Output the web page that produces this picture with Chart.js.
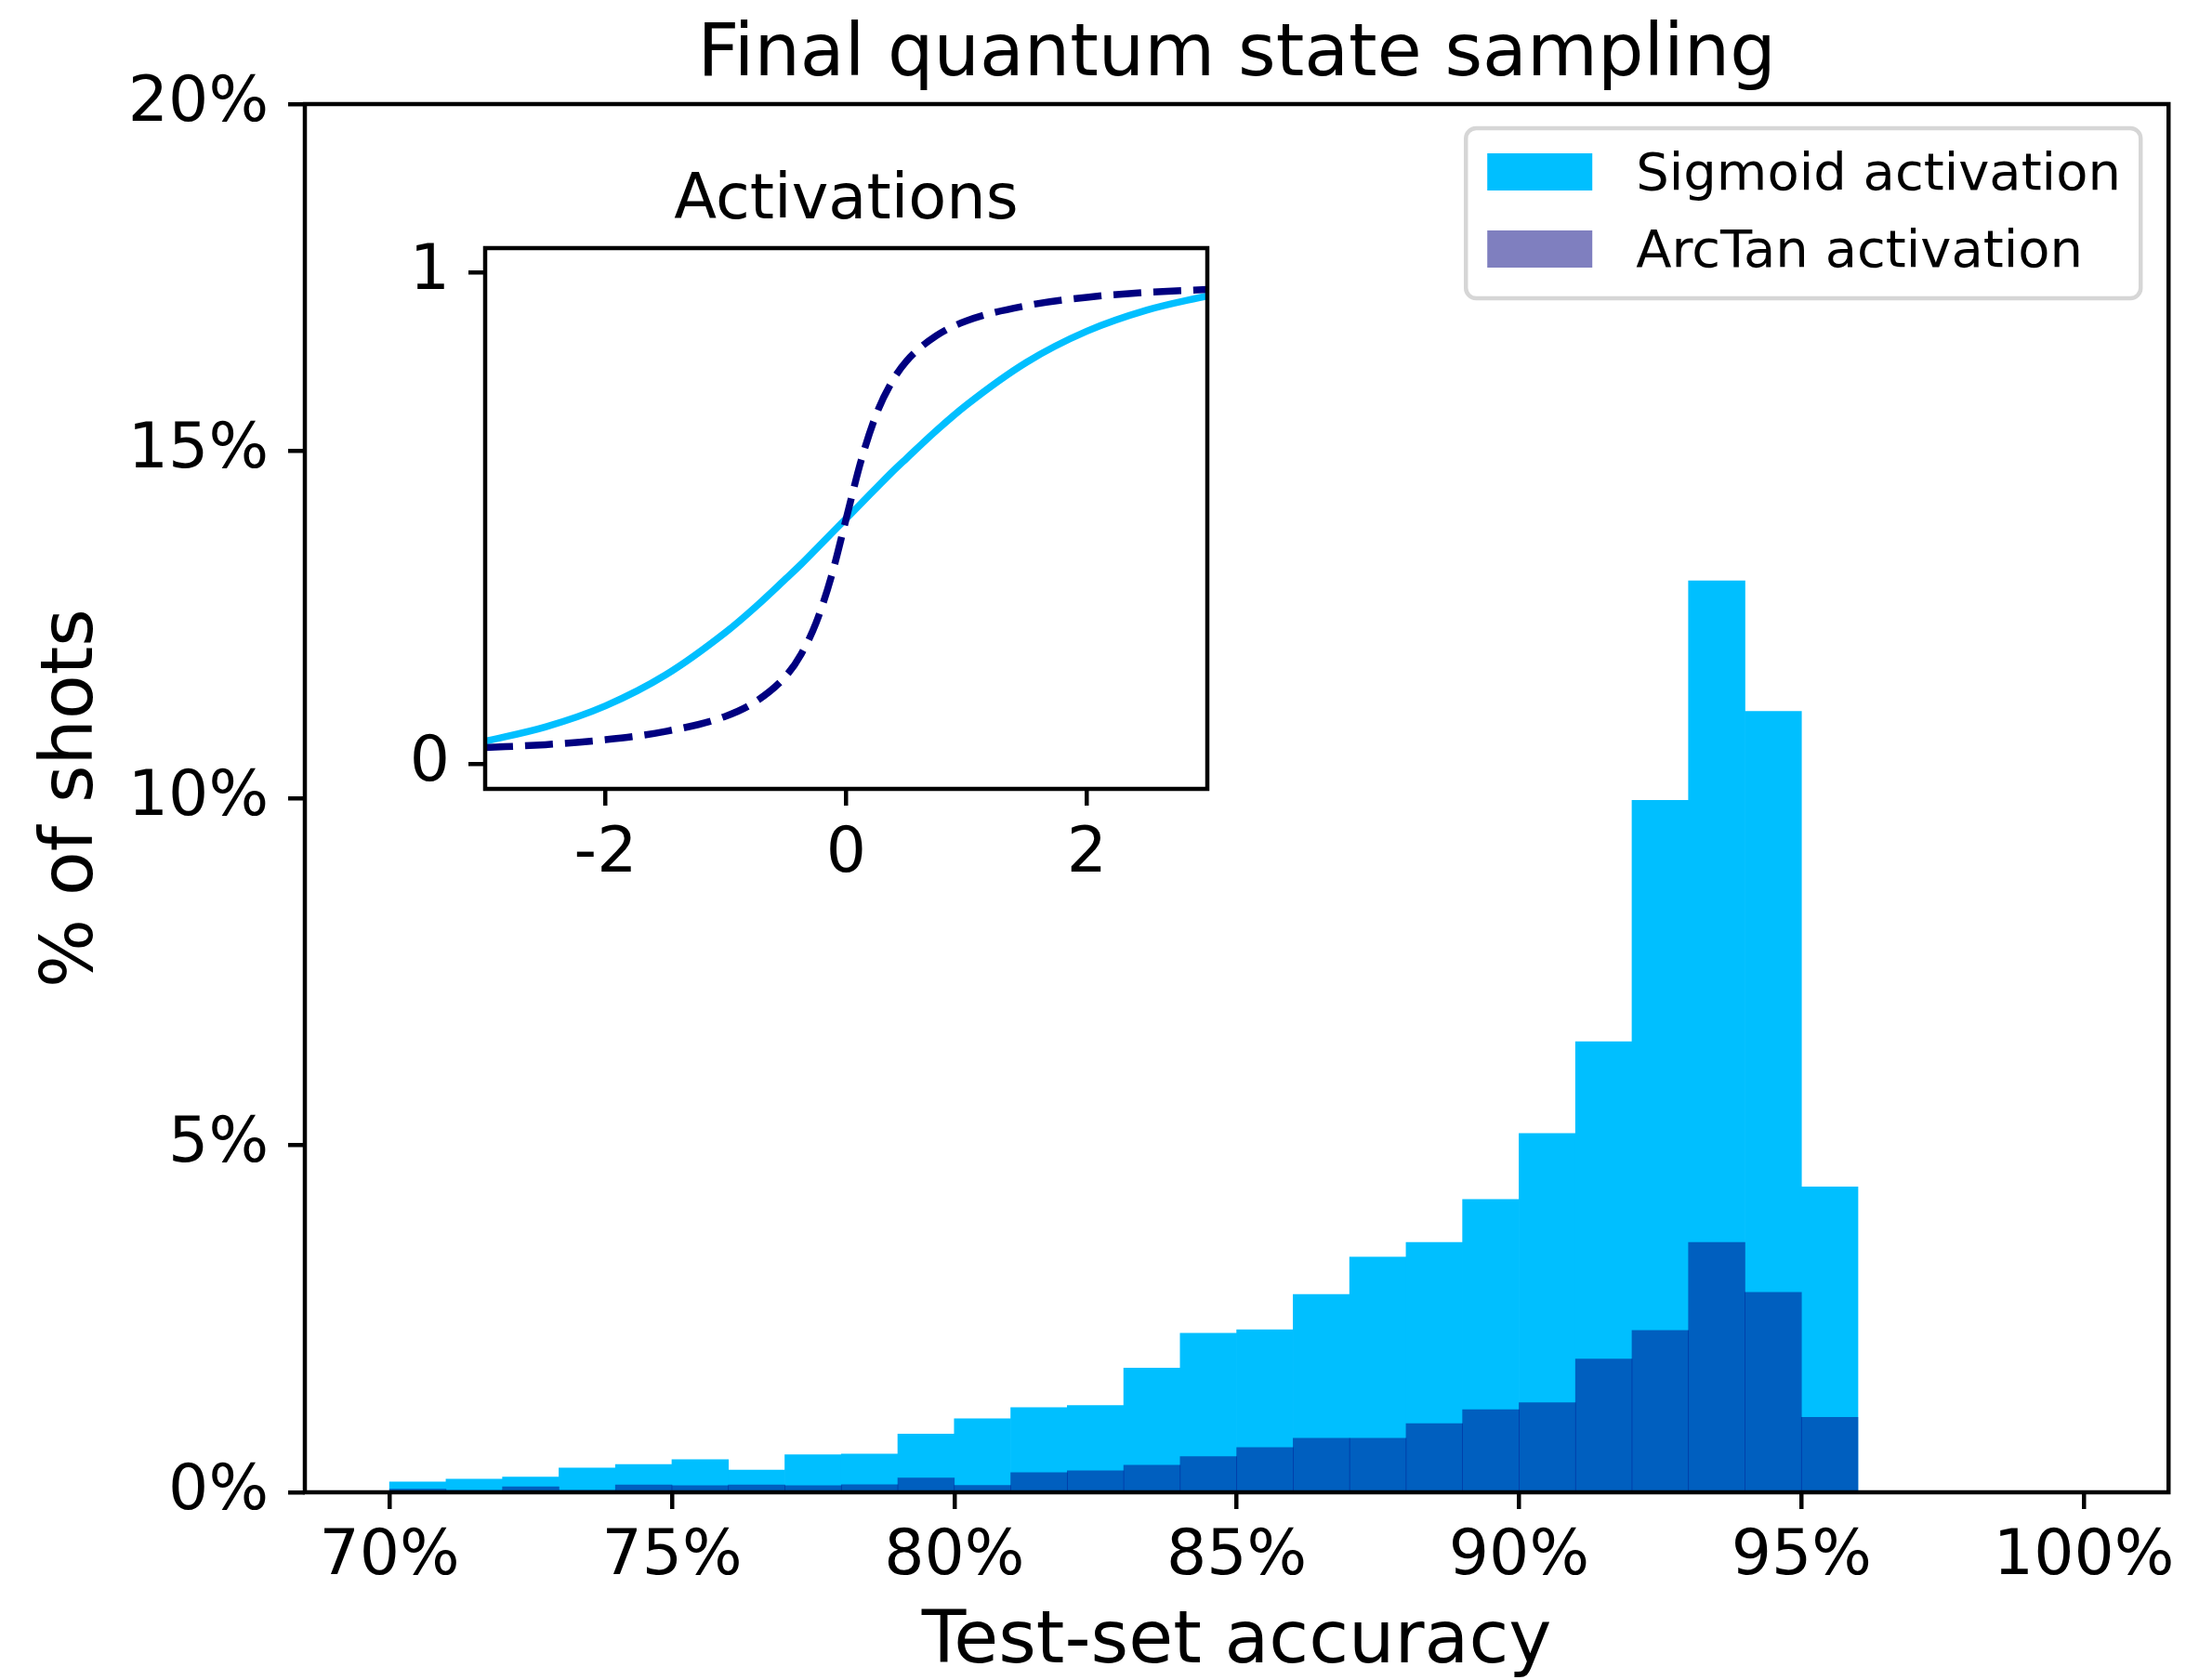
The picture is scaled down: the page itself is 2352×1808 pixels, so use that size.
<!DOCTYPE html>
<html lang="en">
<head>
    <meta charset="UTF-8">
    <title>Final quantum state sampling</title>
    <script src="https://cdn.jsdelivr.net/npm/chart.js"></script>
    <style>
        html, body { margin: 0; padding: 0; background: #fff; overflow: hidden; }
        #wrap { position: relative; width: 2352px; height: 1808px; }
        #mainChart { position: absolute; left: 0; top: 0; }
        #insetChart { position: absolute; left: 400px; top: 150px; }
    </style>
</head>
<body>
<div id="wrap">
    <canvas id="mainChart" width="2352" height="1808"></canvas>
    <canvas id="insetChart" width="940" height="820"></canvas>
</div>
<script>
    // Histogram: left edge of each 1% bin (test-set accuracy)
    const binStarts = [70, 71, 72, 73, 74, 75, 76, 77, 78, 79, 80, 81, 82,
                       83, 84, 85, 86, 87, 88, 89, 90, 91, 92, 93, 94, 95];
    // % of shots per bin
    const sigmoidShots = [0.15, 0.19, 0.22, 0.35, 0.40, 0.47, 0.32, 0.54, 0.55, 0.84, 1.06, 1.22, 1.25,
                          1.79, 2.29, 2.34, 2.85, 3.39, 3.60, 4.22, 5.17, 6.49, 9.97, 13.13, 11.25, 4.40];
    const arctanShots = [0.045, 0.02, 0.08, 0.02, 0.105, 0.095, 0.105, 0.095, 0.11, 0.205, 0.10, 0.285, 0.31,
                         0.39, 0.515, 0.645, 0.78, 0.78, 0.99, 1.19, 1.29, 1.92, 2.33, 3.60, 2.88, 1.08];
    const xTicks = [70, 75, 80, 85, 90, 95, 100];
    const yTicks = [0, 5, 10, 15, 20];

    // Inset: activation curves
    const actX = [-3, -2.5, -2, -1.5, -1, -0.75, -0.5, -0.375, -0.25, -0.125, 0,
                  0.125, 0.25, 0.375, 0.5, 0.75, 1, 1.5, 2, 2.5, 3];
    const sigmoidAct = [0.047, 0.076, 0.119, 0.182, 0.269, 0.321, 0.378, 0.407, 0.438, 0.469, 0.5,
                        0.531, 0.562, 0.593, 0.622, 0.679, 0.731, 0.818, 0.881, 0.924, 0.953];
    const arctanAct = [0.034, 0.040, 0.050, 0.067, 0.098, 0.128, 0.180, 0.224, 0.288, 0.381, 0.5,
                       0.619, 0.712, 0.776, 0.820, 0.872, 0.902, 0.933, 0.950, 0.960, 0.966];
    const insetXTicks = [-2, 0, 2];
    const insetYTicks = [0, 1];

    const FONT = "'DejaVu Sans', sans-serif";
    Chart.defaults.font.family = FONT;
    Chart.defaults.color = '#000';

    const SIGMOID_COLOR = '#00bfff';
    const ARCTAN_FILL = 'rgba(0, 0, 128, 0.5)';
    const ARCTAN_LINE = '#000080';

    // title above the axes box + black frame around the plot area (like matplotlib spines)
    const axesDecor = {
        id: 'axesDecor',
        afterDatasetsDraw(chart, args, opts) {
            const { ctx, chartArea: a } = chart;
            ctx.save();
            ctx.strokeStyle = '#000';
            ctx.lineWidth = opts.frameWidth;
            ctx.strokeRect(a.left, a.top, a.right - a.left, a.bottom - a.top);
            ctx.fillStyle = '#000';
            ctx.font = opts.titleSize + 'px ' + FONT;
            ctx.textAlign = 'center';
            ctx.textBaseline = 'alphabetic';
            ctx.fillText(opts.title, (a.left + a.right) / 2, a.top - opts.titleGap);
            ctx.restore();
        }
    };

    // legend box in the upper right corner of the plot area
    const boxLegend = {
        id: 'boxLegend',
        afterDraw(chart, args, opts) {
            const { ctx, chartArea: a } = chart;
            const fs = opts.fontSize;
            const right = a.right - 30, top = a.top + 26;
            const w = 726, h = 183;
            const left = right - w;
            ctx.save();
            ctx.beginPath();
            ctx.roundRect(left, top, w, h, 11);
            ctx.fillStyle = 'rgba(255,255,255,0.8)';
            ctx.fill();
            ctx.lineWidth = 4.5;
            ctx.strokeStyle = '#d6d6d6';
            ctx.stroke();
            ctx.font = fs + 'px ' + FONT;
            ctx.textAlign = 'left';
            ctx.textBaseline = 'alphabetic';
            const items = [chart.data.datasets[0], chart.data.datasets[1]];
            items.forEach((ds, i) => {
                const rowBottom = top + 67 + i * 83;
                ctx.fillStyle = '#fff';
                ctx.fillRect(left + 23, rowBottom - 40, 113, 40);
                ctx.fillStyle = ds.backgroundColor;
                ctx.fillRect(left + 23, rowBottom - 40, 113, 40);
                ctx.fillStyle = '#000';
                ctx.fillText(ds.label, left + 183, rowBottom - 1);
            });
            ctx.restore();
        }
    };

    const mainChart = new Chart(document.getElementById('mainChart'), {
        type: 'bar',
        data: {
            datasets: [
                {
                    label: 'Sigmoid activation',
                    data: binStarts.map((b, i) => ({ x: b + 0.5, y: sigmoidShots[i] })),
                    backgroundColor: SIGMOID_COLOR,
                    order: 2
                },
                {
                    label: 'ArcTan activation',
                    data: binStarts.map((b, i) => ({ x: b + 0.5, y: arctanShots[i] })),
                    backgroundColor: ARCTAN_FILL,
                    order: 1
                }
            ]
        },
        options: {
            responsive: false,
            animation: false,
            devicePixelRatio: 1,
            grouped: false,
            barPercentage: 1,
            categoryPercentage: 1,
            borderWidth: 0,
            layout: { padding: { top: 112, right: 16, bottom: 0, left: 0 } },
            plugins: {
                legend: { display: false },
                tooltip: { enabled: false },
                axesDecor: { title: 'Final quantum state sampling', titleSize: 78, titleGap: 31, frameWidth: 4.5 },
                boxLegend: { fontSize: 56 }
            },
            scales: {
                x: {
                    type: 'linear',
                    min: 68.5,
                    max: 101.5,
                    offset: false,
                    afterBuildTicks: axis => { axis.ticks = xTicks.map(v => ({ value: v })); },
                    afterFit: scale => { scale.height = 202; },
                    grid: { offset: false, drawOnChartArea: false, tickLength: 18, lineWidth: 4.5, color: '#000' },
                    border: { display: false },
                    ticks: { font: { size: 68 }, padding: 12, maxRotation: 0, autoSkip: false,
                             callback: v => v + '%' },
                    title: { display: true, text: 'Test-set accuracy', font: { size: 78, lineHeight: 1 },
                             padding: { top: 0, bottom: 0 } }
                },
                y: {
                    min: 0,
                    max: 20,
                    afterBuildTicks: axis => { axis.ticks = yTicks.map(v => ({ value: v })); },
                    afterFit: scale => { scale.width = 328; },
                    grid: { drawOnChartArea: false, tickLength: 18, lineWidth: 4.5, color: '#000' },
                    border: { display: false },
                    ticks: { font: { size: 68 }, padding: 21, callback: v => v + '%' },
                    title: { display: true, text: '% of shots', font: { size: 78, lineHeight: 1.2 },
                             padding: { top: 32, bottom: 0 } }
                }
            }
        },
        plugins: [axesDecor, boxLegend]
    });

    const insetChart = new Chart(document.getElementById('insetChart'), {
        type: 'line',
        data: {
            datasets: [
                {
                    label: 'Sigmoid',
                    data: actX.map((x, i) => ({ x: x, y: sigmoidAct[i] })),
                    borderColor: SIGMOID_COLOR,
                    borderWidth: 7.5,
                    pointRadius: 0,
                    cubicInterpolationMode: 'monotone',
                    clip: 0,
                    order: 2
                },
                {
                    label: 'ArcTan',
                    data: actX.map((x, i) => ({ x: x, y: arctanAct[i] })),
                    borderColor: ARCTAN_LINE,
                    borderWidth: 7.5,
                    borderDash: [30, 13],
                    borderCapStyle: 'butt',
                    pointRadius: 0,
                    cubicInterpolationMode: 'monotone',
                    clip: 0,
                    order: 1
                }
            ]
        },
        options: {
            responsive: false,
            animation: false,
            devicePixelRatio: 1,
            layout: { padding: { top: 117, right: 41, bottom: 0, left: 0 } },
            plugins: {
                legend: { display: false },
                tooltip: { enabled: false },
                axesDecor: { title: 'Activations', titleSize: 67, titleGap: 32, frameWidth: 4.5 }
            },
            scales: {
                x: {
                    type: 'linear',
                    min: -3,
                    max: 3,
                    afterBuildTicks: axis => { axis.ticks = insetXTicks.map(v => ({ value: v })); },
                    afterFit: scale => { scale.height = 121; },
                    grid: { drawOnChartArea: false, tickLength: 18, lineWidth: 4.5, color: '#000' },
                    border: { display: false },
                    ticks: { font: { size: 68 }, padding: 13, maxRotation: 0, callback: v => String(v) }
                },
                y: {
                    type: 'linear',
                    min: -0.05,
                    max: 1.05,
                    afterBuildTicks: axis => { axis.ticks = insetYTicks.map(v => ({ value: v })); },
                    afterFit: scale => { scale.width = 122; },
                    grid: { drawOnChartArea: false, tickLength: 18, lineWidth: 4.5, color: '#000' },
                    border: { display: false },
                    ticks: { font: { size: 68 }, padding: 20, callback: v => String(v) }
                }
            }
        },
        plugins: [axesDecor]
    });
</script>
</body>
</html>
